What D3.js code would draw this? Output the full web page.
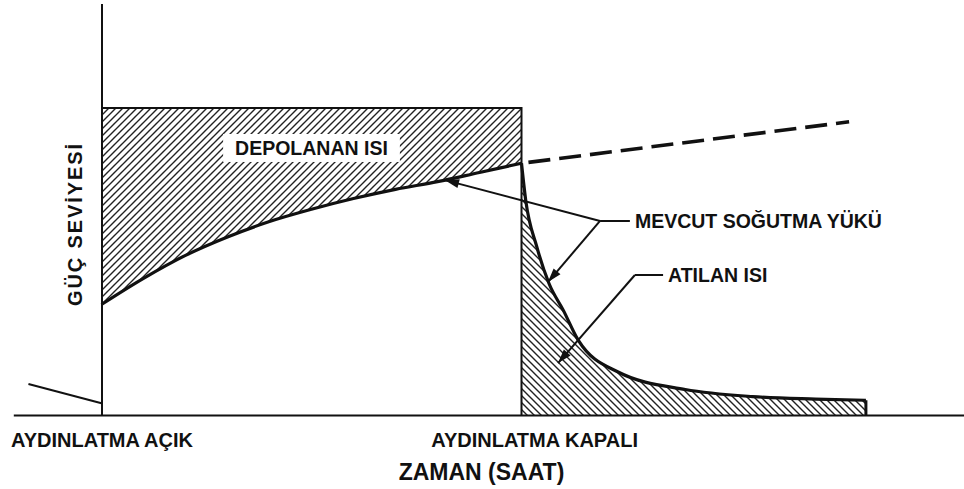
<!DOCTYPE html>
<html>
<head>
<meta charset="utf-8">
<script src="https://cdn.jsdelivr.net/npm/d3@7"></script>
<style>
  body { margin: 0; background: #fff; }
  text { font-family: "Liberation Sans", Arial, sans-serif; font-weight: bold; fill: #111; }
</style>
</head>
<body>
<div id="chart"></div>
<script>
// time in hours, load as % of lighting power
const onTime = [0, 1, 2, 3, 4, 5, 6, 7, 8, 9, 10]
const onLoad = [36, 44.5, 52, 58, 63, 67, 70.5, 73.5, 76, 79, 82]
const lightPower = 100

const offTime = [10, 10.1, 10.36, 10.65, 11, 11.35, 12.3, 13.9, 15.5, 17, 18.2]
const offLoad = [82, 70, 55, 43, 34, 24.4, 14, 8.3, 6, 5.2, 4.8]

const trendTime = [10, 17.8]
const trendLoad = [82, 95.5]

const prevTime = [-1.74, 0]
const prevLoad = [10.1, 3.8]

const markTimes = [0, 10.3]
const markLabels = ['AYDINLATMA AÇIK', 'AYDINLATMA KAPALI']

const calloutLabels = ['MEVCUT SOĞUTMA YÜKÜ', 'ATILAN ISI']
const calloutAt = [[12.7, 63.2], [13.49, 45.6]]
const calloutJoint = [[11.87, 63.2], [12.7, 45.6]]
const calloutTips = [[[8.18, 76.5], [10.63, 43.3]], [[10.87, 16.9]]]

const width = 964
const height = 489

const x = d3.scaleLinear().domain([0, 10]).range([101.5, 521.5])
const y = d3.scaleLinear().domain([0, 100]).range([415, 108])

const svg = d3.select('#chart').append('svg')
  .attr('width', width)
  .attr('height', height)

const defs = svg.append('defs')

defs.append('pattern')
  .attr('id', 'hatch-up')
  .attr('patternUnits', 'userSpaceOnUse')
  .attr('width', 7).attr('height', 7)
  .append('path')
  .attr('d', 'M-1,1 l2,-2 M0,7 l7,-7 M6,8 l2,-2')
  .attr('stroke', '#222').attr('stroke-width', 1.4)

defs.append('pattern')
  .attr('id', 'hatch-down')
  .attr('patternUnits', 'userSpaceOnUse')
  .attr('width', 7).attr('height', 7)
  .append('path')
  .attr('d', 'M-1,6 l2,2 M0,0 l7,7 M6,-1 l2,2')
  .attr('stroke', '#222').attr('stroke-width', 1.4)

defs.append('marker')
  .attr('id', 'head')
  .attr('markerUnits', 'userSpaceOnUse')
  .attr('viewBox', '-15 -6 16 12')
  .attr('markerWidth', 16).attr('markerHeight', 12)
  .attr('refX', 0).attr('refY', 0)
  .attr('orient', 'auto')
  .append('path')
  .attr('d', 'M0,0 L-14,-4.5 L-14,4.5 Z')
  .attr('fill', '#111')

const zip = (a, b) => a.map((d, i) => [d, b[i]])
const onData = zip(onTime, onLoad)
const offData = zip(offTime, offLoad)

// stored heat: between lighting power and the cooling load
svg.append('path')
  .datum(onData)
  .attr('fill', 'url(#hatch-up)')
  .attr('d', d3.area()
    .x(d => x(d[0]))
    .y0(y(lightPower))
    .y1(d => y(d[1]))
    .curve(d3.curveMonotoneX))

// rejected heat after lights off
svg.append('path')
  .datum(offData)
  .attr('fill', 'url(#hatch-down)')
  .attr('d', d3.area()
    .x(d => x(d[0]))
    .y0(y(0))
    .y1(d => y(d[1]))
    .curve(d3.curveMonotoneX))

// axes
const yAxisScale = y.copy().domain([0, 134]).range([y(0), y(134)])
svg.append('g')
  .attr('transform', `translate(${x(0)},0)`)
  .call(d3.axisLeft(yAxisScale).tickValues([]).tickSizeOuter(0))
  .call(g => g.select('.domain').attr('stroke', '#111').attr('stroke-width', 2))

const xAxisScale = x.copy().domain([-2.1, 20.6]).range([x(-2.1), x(20.6)])
svg.append('g')
  .attr('transform', `translate(0,${y(0)})`)
  .call(d3.axisBottom(xAxisScale)
    .tickValues(markTimes)
    .tickSize(0)
    .tickSizeOuter(0)
    .tickPadding(18)
    .tickFormat((d, i) => markLabels[i]))
  .call(g => g.select('.domain').attr('stroke', '#111').attr('stroke-width', 2))
  .call(g => g.selectAll('.tick text')
    .attr('fill', '#111')
    .style('font-size', '20px')
    .style('font-family', '"Liberation Sans", Arial, sans-serif')
    .style('font-weight', 'bold'))

// lighting power outline
const line = d3.line().x(d => x(d[0])).y(d => y(d[1]))
svg.append('path')
  .datum([[0, lightPower], [10, lightPower], [10, 0]])
  .attr('fill', 'none')
  .attr('stroke', '#111')
  .attr('stroke-width', 2)
  .attr('d', line)

// previous cycle tail
svg.append('path')
  .datum(zip(prevTime, prevLoad))
  .attr('fill', 'none')
  .attr('stroke', '#111')
  .attr('stroke-width', 2)
  .attr('d', line)

// cooling load curves
const curve = d3.line().x(d => x(d[0])).y(d => y(d[1])).curve(d3.curveMonotoneX)
svg.append('path')
  .datum(onData)
  .attr('fill', 'none')
  .attr('stroke', '#111')
  .attr('stroke-width', 3.2)
  .attr('d', curve)

svg.append('path')
  .datum(offData)
  .attr('fill', 'none')
  .attr('stroke', '#111')
  .attr('stroke-width', 3.2)
  .attr('d', curve)

const last = offData[offData.length - 1]
svg.append('path')
  .datum([last, [last[0], 0]])
  .attr('fill', 'none')
  .attr('stroke', '#111')
  .attr('stroke-width', 3)
  .attr('d', line)

// dashed continuation if lights stayed on
svg.append('path')
  .datum(zip(trendTime, trendLoad))
  .attr('fill', 'none')
  .attr('stroke', '#111')
  .attr('stroke-width', 3.6)
  .attr('stroke-dasharray', '22 9')
  .attr('stroke-dashoffset', 24)
  .attr('d', line)

// stored heat label
const stored = svg.append('g')
const storedText = stored.append('text')
  .attr('x', x(5))
  .attr('y', y(84.7))
  .attr('text-anchor', 'middle')
  .style('font-size', '19.5px')
  .text('DEPOLANAN ISI')
const bb = storedText.node().getBBox()
stored.insert('rect', 'text')
  .attr('x', bb.x - 12)
  .attr('y', bb.y - 3)
  .attr('width', bb.width + 24)
  .attr('height', bb.height + 6)
  .attr('fill', '#fff')

// callouts
calloutLabels.forEach((label, i) => {
  const [jt, jv] = calloutJoint[i]
  const [lt, lv] = calloutAt[i]
  svg.append('line')
    .attr('x1', x(jt)).attr('y1', y(jv))
    .attr('x2', x(lt) - 5).attr('y2', y(lv))
    .attr('stroke', '#111').attr('stroke-width', 2)
  calloutTips[i].forEach(tip => {
    svg.append('line')
      .attr('x1', x(jt)).attr('y1', y(jv))
      .attr('x2', x(tip[0])).attr('y2', y(tip[1]))
      .attr('stroke', '#111').attr('stroke-width', 2)
      .attr('marker-end', 'url(#head)')
  })
  svg.append('text')
    .attr('x', x(lt))
    .attr('y', y(lv) + 7)
    .style('font-size', '19.5px')
    .text(label)
})

// axis titles
svg.append('text')
  .attr('x', 481.5)
  .attr('y', 480)
  .attr('text-anchor', 'middle')
  .style('font-size', '23px')
  .text('ZAMAN (SAAT)')

svg.append('text')
  .attr('transform', `translate(${x(0) - 19.5},${y(62.2)}) rotate(-90)`)
  .attr('text-anchor', 'middle')
  .style('font-size', '20px')
  .style('letter-spacing', '1.9px')
  .text('GÜÇ SEVİYESİ')
</script>
</body>
</html>
